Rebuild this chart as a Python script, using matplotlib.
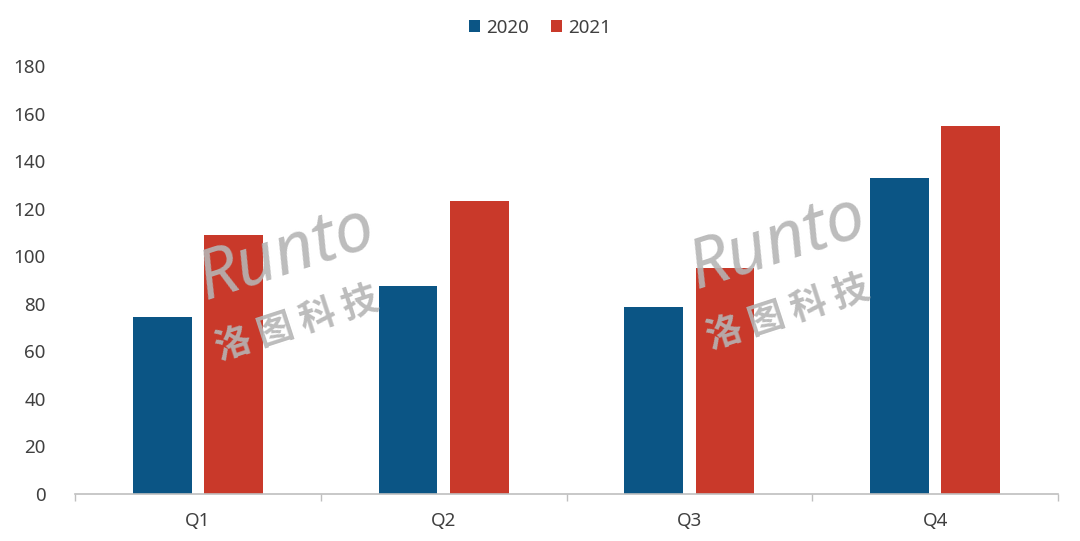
import matplotlib.pyplot as plt
import numpy as np
from matplotlib.patches import Patch

plt.rcParams['font.family'] = ['Noto Sans', 'Noto Sans CJK SC', 'DejaVu Sans']

# data
quarters = ['Q1', 'Q2', 'Q3', 'Q4']
years = ['2020', '2021']
values_2020 = [74.4, 87.5, 78.6, 132.9]
values_2021 = [108.9, 123.2, 95.0, 154.7]

BLUE = '#0B5585'
RED = '#C9392A'
TEXT = '#404040'

fig = plt.figure(figsize=(10.8, 5.41), dpi=100)
ax = fig.add_axes([75 / 1080, 47 / 541, 983 / 1080, 428 / 541])

x = np.arange(len(quarters))
width = 0.24
gap = 0.05
ax.bar(x - (width + gap) / 2, values_2020, width, color=BLUE, label=years[0], zorder=2)
ax.bar(x + (width + gap) / 2, values_2021, width, color=RED, label=years[1], zorder=2)

ax.set_xlim(-0.5, len(quarters) - 0.5)
ax.set_ylim(0, 180)
ax.set_yticks(np.arange(0, 181, 20))
ax.tick_params(axis='y', length=0, pad=21, labelsize=13.5, labelcolor=TEXT)

# category labels in the middle, tick marks on the boundaries
ax.set_xticks(x)
ax.set_xticklabels(quarters)
ax.set_xticks(np.arange(-0.5, len(quarters), 1), minor=True)
ax.tick_params(axis='x', which='major', length=0, pad=13, labelsize=13.5, labelcolor=TEXT)
ax.tick_params(axis='x', which='minor', length=5, color='#bfbfbf', width=1)

for s in ['top', 'right', 'left']:
    ax.spines[s].set_visible(False)
ax.spines['bottom'].set_color('#bfbfbf')
ax.spines['bottom'].set_linewidth(1.2)

handles = [Patch(facecolor=BLUE, label=years[0]), Patch(facecolor=RED, label=years[1])]
fig.legend(handles=handles, loc='center', bbox_to_anchor=(0.5, 1 - 28 / 541), ncol=2,
           frameon=False, fontsize=13.5, handlelength=0.6, handleheight=0.6,
           handletextpad=0.3, columnspacing=1.2, labelcolor=TEXT)

# watermark
for cx, cy in [(0.265, 0.50), (0.72, 0.52)]:
    fig.text(cx, cy + 0.03, 'Runto', fontsize=50, color='#b5b5b5', rotation=18,
             ha='center', va='center', style='italic', alpha=0.9, zorder=5)
    fig.text(cx + 0.01, cy - 0.10, '洛 图 科 技', fontsize=26, color='#b5b5b5', rotation=18,
             ha='center', va='center', fontweight='bold', alpha=0.9, zorder=5,
             family=['Noto Sans CJK SC', 'DejaVu Sans'])

fig.savefig('out.png', dpi=100)
